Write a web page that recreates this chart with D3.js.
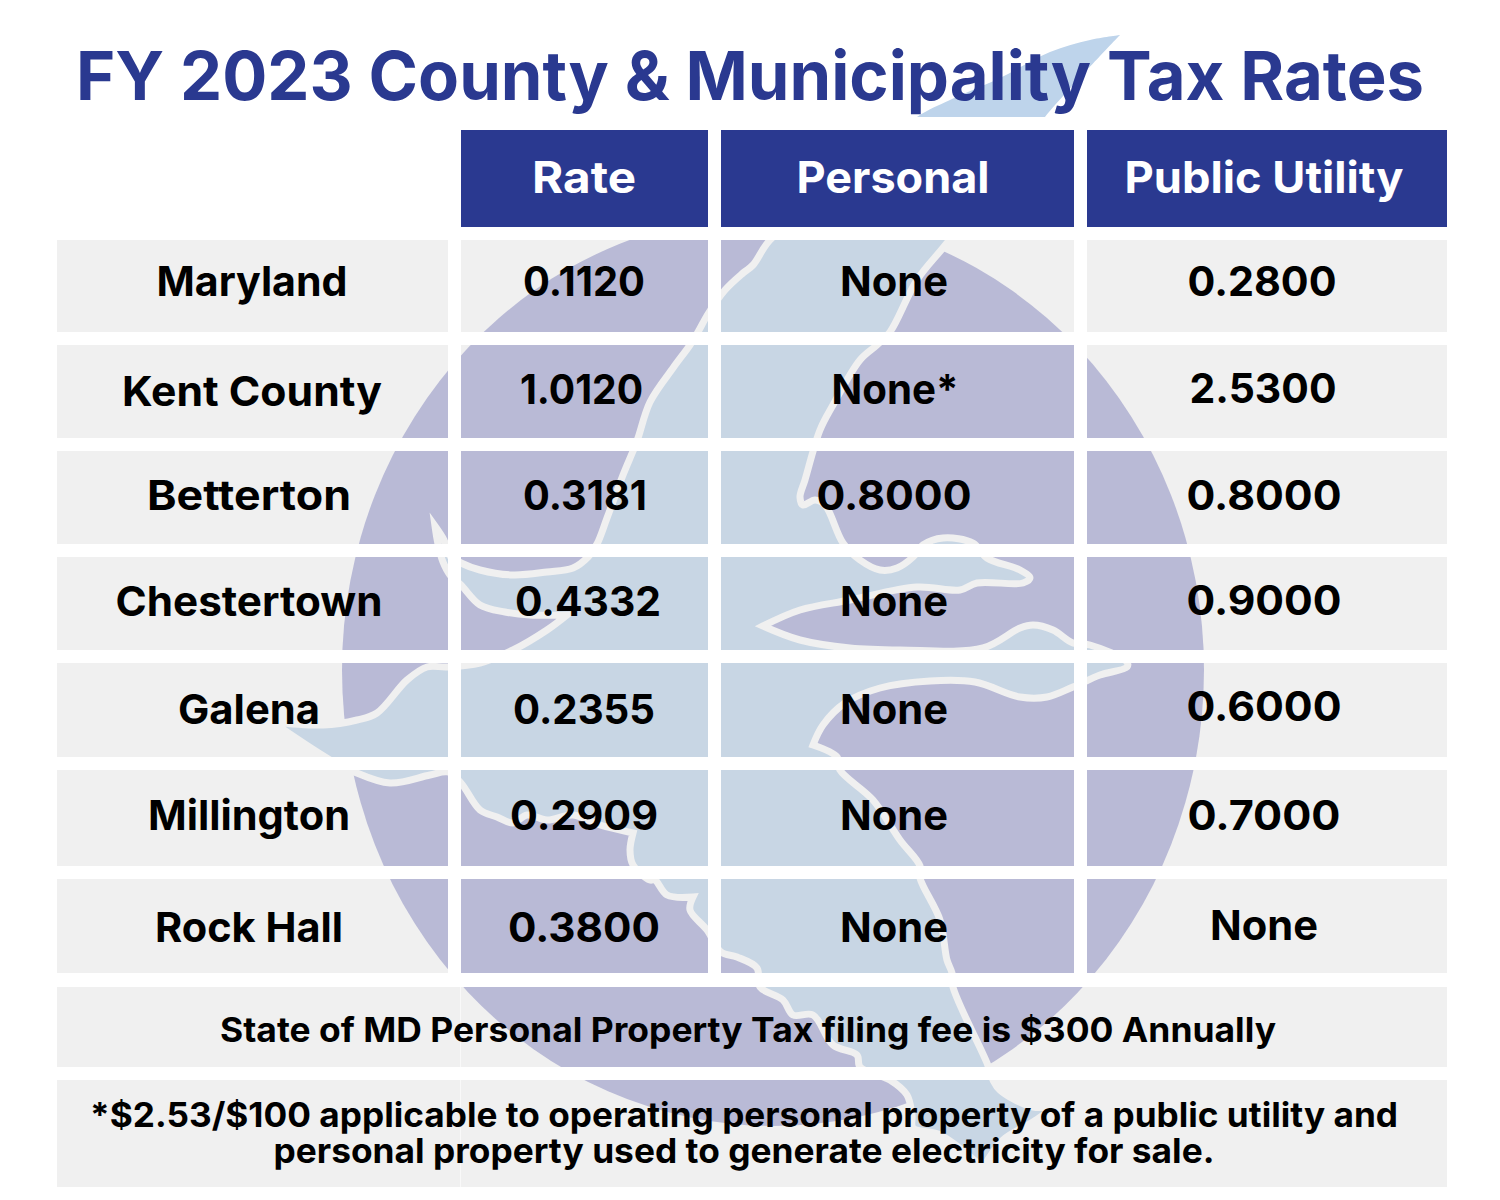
<!DOCTYPE html>
<html>
<head>
<meta charset="utf-8">
<script src="https://cdn.jsdelivr.net/npm/d3@7"></script>
<style>
  html, body { margin: 0; background: #fff; }
  text { font-family: Inter, sans-serif; font-weight: 700; text-anchor: middle; }
</style>
</head>
<body>
<div id="chart"></div>
<script>
// table content
const title = "FY 2023 County & Municipality Tax Rates";
const columns = ["Rate", "Personal", "Public Utility"];
const places = ["Maryland", "Kent County", "Betterton", "Chestertown", "Galena", "Millington", "Rock Hall"];
const rates = ["0.1120", "1.0120", "0.3181", "0.4332", "0.2355", "0.2909", "0.3800"];
const personal = ["None", "None*", "0.8000", "None", "None", "None", "None"];
const publicUtility = ["0.2800", "2.5300", "0.8000", "0.9000", "0.6000", "0.7000", "None"];
const feeNote = "State of MD Personal Property Tax filing fee is $300 Annually";
const footnote = [
  "*$2.53/$100 applicable to operating personal property of a public utility and",
  "personal property used to generate electricity for sale."
];

// backdrop silhouette in page pixels
// (a repeated point makes a sharp corner in the curve)
const outline = [
  [1120, 35], [1120, 35], [1090, 40], [1050, 52], [1000, 78], [950, 100], [917, 117], [850, 175], [770, 240],
  [753, 265], [743, 273], [725, 290], [708, 314], [698, 332], [690, 345], [673, 368], [650, 402],
  [638, 438], [633, 451], [623, 475], [607, 518], [597, 544], [588, 557], [573, 568], [547, 572],
  [513, 575], [480, 570], [461, 563], [450, 556], [444, 540], [435, 526], [435, 526], [438, 544],
  [443, 562], [450, 575], [461, 585], [480, 605], [505, 612], [530, 615], [567, 615], [567, 615],
  [547, 630], [513, 650], [480, 663], [447, 667], [427, 667], [407, 680], [377, 713], [357, 720],
  [323, 725], [272, 722], [272, 722], [330, 760], [352, 771], [390, 783], [430, 775], [448, 772],
  [461, 783], [480, 810], [497, 817], [513, 823], [527, 815], [547, 820], [573, 815], [600, 825],
  [633, 833], [633, 833], [630, 850], [633, 865], [650, 880], [655, 880], [667, 895], [693, 897],
  [693, 897], [690, 910], [707, 930], [721, 952], [737, 957], [757, 968], [760, 987], [783, 1000],
  [793, 1015], [813, 1015], [833, 1045], [857, 1055], [860, 1067], [890, 1080], [907, 1095],
  [912, 1115], [913, 1128], [940, 1135], [983, 1168], [983, 1168], [1003, 1140], [1033, 1122],
  [1057, 1105], [1057, 1105], [1033, 1107], [1000, 1090], [993, 1080], [987, 1063], [953, 987],
  [952, 973], [947, 960], [940, 920], [920, 878], [920, 866], [900, 840], [873, 800], [840, 770],
  [837, 757], [813, 745], [813, 745], [823, 725], [845, 703], [880, 688], [930, 681], [975, 682],
  [1020, 697], [1047, 697], [1073, 687], [1100, 675], [1127, 667], [1127, 662], [1090, 645],
  [1073, 643], [1053, 630], [1033, 625], [1020, 628], [983, 648], [900, 650], [850, 648], [800, 640],
  [763, 626], [763, 626], [800, 610], [850, 600], [917, 587], [960, 590], [977, 583], [1023, 583],
  [1030, 578], [1020, 570], [987, 558], [973, 543], [943, 538], [923, 545], [913, 557], [897, 568],
  [880, 570], [860, 560], [843, 543], [825, 505], [815, 500], [803, 505], [800, 497], [805, 480],
  [820, 430], [833, 405], [860, 360], [877, 345], [890, 332], [917, 280], [947, 243], [1045, 117]
];

// layout
const columnLeft = d3.scaleOrdinal(["place", ...columns], [57, 461, 721, 1087]);
const columnRight = d3.scaleOrdinal(["place", ...columns], [448, 708, 1074, 1447]);
const rowTop = d3.scaleOrdinal(places, [240, 345, 451, 557, 663, 770, 879]);
const rowBottom = d3.scaleOrdinal(places, [332, 438, 544, 650, 757, 866, 973]);
const headerTop = 130, headerBottom = 227;

// text placement per column: centre, baseline and width as seen in the reference
const placeText = {
  x: [252, 252, 249, 249, 249, 249, 249],
  y: [296, 406, 510, 616, 724, 830, 942],
  w: [191, 260, 204, 267, 142, 202, 188]
};
const rateText = {
  x: [584, 581.5, 585, 588, 584, 584, 584],
  y: [296, 404, 510, 616, 724, 830, 942],
  w: [122, 123, 124, 146, 142, 148, 152]
};
const personalText = {
  x: [894, 895, 894, 894, 894, 894, 894],
  y: [296, 404, 510, 616, 724, 830, 942],
  w: [108, 127, 155, 108, 108, 108, 108]
};
const publicText = {
  x: [1262, 1263, 1264, 1264, 1264, 1264, 1264],
  y: [296, 403, 510, 615, 721, 830, 940],
  w: [149, 147, 155, 155, 155, 153, 108]
};

const navy = "#2a3990";
const cellGrey = "#f0f0f0";

const svg = d3.select("#chart").append("svg")
  .attr("width", 1500).attr("height", 1200);

// grey cells, used both as fill and as the window the backdrop shows through
const cells = [];
places.forEach(p => ["place", ...columns].forEach(c => {
  cells.push({ x: columnLeft(c), y: rowTop(p), w: columnRight(c) - columnLeft(c), h: rowBottom(p) - rowTop(p) });
}));
const noteCells = [{ x: 57, y: 987, w: 1390, h: 80 }, { x: 57, y: 1080, w: 1390, h: 107 }];
cells.push(...noteCells);

svg.append("clipPath").attr("id", "cells")
  .selectAll("rect").data(cells).join("rect")
  .attr("x", d => d.x).attr("y", d => d.y).attr("width", d => d.w).attr("height", d => d.h);
svg.append("clipPath").attr("id", "titleBand")
  .append("rect").attr("x", 0).attr("y", 0).attr("width", 1500).attr("height", 117);

svg.append("g").selectAll("rect").data(cells).join("rect")
  .attr("x", d => d.x).attr("y", d => d.y).attr("width", d => d.w).attr("height", d => d.h)
  .attr("fill", cellGrey);

const shape = d3.line().curve(d3.curveCatmullRomClosed.alpha(0.5));

const backdrop = svg.append("g").attr("clip-path", "url(#cells)");
backdrop.append("ellipse")
  .attr("cx", 773).attr("cy", 670).attr("rx", 431).attr("ry", 456)
  .attr("fill", "#b9bad6");
backdrop.append("path")
  .attr("d", shape(outline))
  .attr("fill", "#c8d6e4")
  .attr("stroke", cellGrey).attr("stroke-width", 7)
  .attr("stroke-linejoin", "miter").attr("stroke-miterlimit", 12);

svg.append("g").attr("clip-path", "url(#titleBand)")
  .append("path").attr("d", shape(outline)).attr("fill", "#bed4eb");

// hairline seam in the two note bands
svg.append("g").selectAll("line").data(noteCells).join("line")
  .attr("x1", 460.5).attr("x2", 460.5)
  .attr("y1", d => d.y).attr("y2", d => d.y + d.h)
  .attr("stroke", "#fff").attr("stroke-opacity", 0.6);

// text squeezed or stretched to the width it has in the reference
function fitted(sel, width) {
  return sel.attr("textLength", width).attr("lengthAdjust", "spacingAndGlyphs");
}

// header
const header = svg.append("g").selectAll("g").data(columns).join("g");
header.append("rect")
  .attr("x", c => columnLeft(c)).attr("y", headerTop)
  .attr("width", c => columnRight(c) - columnLeft(c)).attr("height", headerBottom - headerTop)
  .attr("fill", navy);
header.append("text")
  .attr("x", (c, i) => [584, 893, 1264][i]).attr("y", 193)
  .attr("font-size", 44).attr("fill", "#fff")
  .text(c => c)
  .call(fitted, (c, i) => [104, 193, 279][i]);

// title
svg.append("text")
  .attr("x", 750).attr("y", 100)
  .attr("font-size", 68).attr("fill", navy)
  .text(title)
  .call(fitted, 1348);

// rows
const bodyColumns = [
  { values: places, pos: placeText },
  { values: rates, pos: rateText },
  { values: personal, pos: personalText },
  { values: publicUtility, pos: publicText }
];
svg.append("g").attr("font-size", 41).attr("fill", "#000")
  .selectAll("g").data(bodyColumns).join("g")
  .each(function (col) {
    d3.select(this).selectAll("text").data(col.values).join("text")
      .attr("x", (d, i) => col.pos.x[i])
      .attr("y", (d, i) => col.pos.y[i])
      .text(d => d)
      .call(fitted, (d, i) => col.pos.w[i]);
  });

// notes
svg.append("text").attr("x", 748).attr("y", 1042)
  .attr("font-size", 34).attr("fill", "#000").text(feeNote)
  .call(fitted, 1056);
svg.append("g").attr("font-size", 34).attr("fill", "#000")
  .selectAll("text").data(footnote).join("text")
  .attr("x", 744).attr("y", (d, i) => [1127, 1163][i])
  .text(d => d)
  .call(fitted, (d, i) => [1308, 941][i]);
</script>
</body>
</html>
